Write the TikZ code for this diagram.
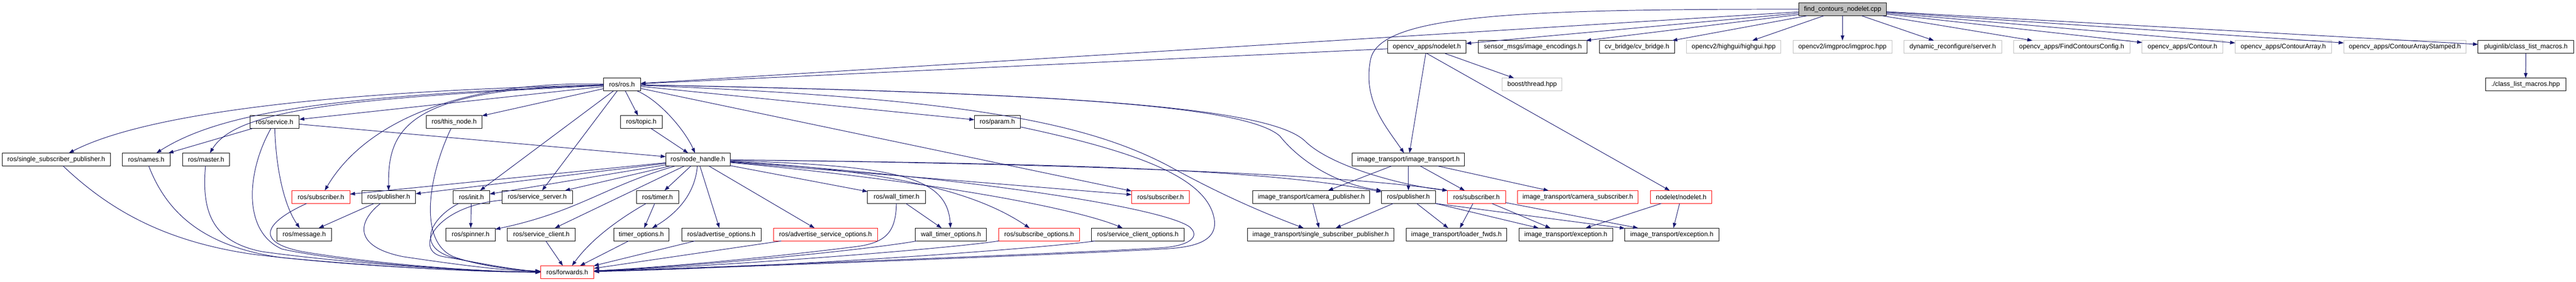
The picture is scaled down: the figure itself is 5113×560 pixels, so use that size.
\documentclass[tikz,border=0pt]{standalone}
\usepackage{fontspec}
\setmainfont{Liberation Sans}
\usetikzlibrary{arrows.meta}
\definecolor{edgeblue}{HTML}{191970}
\definecolor{greyb}{HTML}{BFBFBF}
\newcommand\dfont{\fontsize{9.8}{11}\selectfont}
\newcommand\bx[6]{\node[#1, minimum width={(#4-#3)*0.75pt}] (#2) at ({(#3+#4)/2},#5) {#6};}
\tikzset{
  nb/.style={draw=black, fill=white, line width=0.75pt, inner sep=0pt, outer sep=0pt, minimum height=19.3pt, font=\dfont},
  nr/.style={nb, draw=red},
  ng/.style={nb, draw=greyb},
  nf/.style={nb, fill=greyb},
  ed/.style={draw=edgeblue, line width=0.75pt, -{Triangle[length=7.5pt,width=5.25pt]}},
}
\begin{document}
\begin{tikzpicture}[x=0.75pt, y=-0.75pt]
\useasboundingbox (0,0) rectangle (5113,560);
% row 0
\bx{nf}{find}{3570}{3744.6}{18.4}{find\_contours\_nodelet.cpp}
% row 1
\bx{nb}{oan}{2754}{2910}{93.4}{opencv\_apps/nodelet.h}
\bx{nb}{senc}{2934.8}{3150}{93.4}{sensor\_msgs/image\_encodings.h}
\bx{nb}{cvb}{3174.6}{3323.7}{93.4}{cv\_bridge/cv\_bridge.h}
\bx{ng}{hgui}{3347.8}{3534.4}{93.4}{opencv2/highgui/highgui.hpp}
\bx{ng}{imgp}{3559}{3755}{93.4}{opencv2/imgproc/imgproc.hpp}
\bx{ng}{dynr}{3779}{3972.8}{93.4}{dynamic\_reconfigure/server.h}
\bx{ng}{fcc}{3996.4}{4227.4}{93.4}{opencv\_apps/FindContoursConfig.h}
\bx{ng}{cont}{4251.8}{4412}{93.4}{opencv\_apps/Contour.h}
\bx{ng}{carr}{4436.4}{4627.4}{93.4}{opencv\_apps/ContourArray.h}
\bx{ng}{cas}{4651.9}{4894.7}{93.4}{opencv\_apps/ContourArrayStamped.h}
\bx{nb}{plm}{4918.6}{5108.4}{93.4}{pluginlib/class\_list\_macros.h}
% row 1.5
\bx{nb}{rosh}{1197.8}{1271.4}{168}{ros/ros.h}
\bx{ng}{boost}{2981.7}{3100.4}{168}{boost/thread.hpp}
\bx{nb}{clm}{4933}{5093}{168}{./class\_list\_macros.hpp}
% row 2
\bx{nb}{srv}{496}{594}{242.5}{ros/service.h}
\bx{nb}{thn}{846}{956.7}{242.5}{ros/this\_node.h}
\bx{nb}{topic}{1231.5}{1314.5}{242.5}{ros/topic.h}
\bx{nb}{param}{1934}{2025}{242.5}{ros/param.h}
% row 3
\bx{nb}{rssp}{4.5}{219}{317}{ros/single\_subscriber\_publisher.h}
\bx{nb}{names}{243}{337.5}{317}{ros/names.h}
\bx{nb}{master}{362}{456}{317}{ros/master.h}
\bx{nb}{nh}{1321.4}{1449}{317}{ros/node\_handle.h}
\bx{nb}{itit}{2684}{2907}{317}{image\_transport/image\_transport.h}
% row 4
\bx{nr}{sub1}{579.5}{694.6}{391.5}{ros/subscriber.h}
\bx{nb}{pub1}{717.9}{825}{391.5}{ros/publisher.h}
\bx{nb}{init}{899.5}{971.9}{391.5}{ros/init.h}
\bx{nb}{ssrv}{996}{1136.6}{391.5}{ros/service\_server.h}
\bx{nb}{timer}{1263}{1347}{391.5}{ros/timer.h}
\bx{nb}{wtim}{1722}{1837}{391.5}{ros/wall\_timer.h}
\bx{nr}{sub2}{2246}{2361}{391.5}{ros/subscriber.h}
\bx{nb}{itcp}{2486.6}{2718.8}{391.5}{image\_transport/camera\_publisher.h}
\bx{nb}{pub2}{2742}{2849}{391.5}{ros/publisher.h}
\bx{nr}{sub3}{2873}{2988}{391.5}{ros/subscriber.h}
\bx{nr}{itcs}{3011.6}{3251.8}{391.5}{image\_transport/camera\_subscriber.h}
\bx{nr}{ndl}{3276}{3397.8}{391.5}{nodelet/nodelet.h}
% row 5
\bx{nb}{msg}{550}{657.6}{466}{ros/message.h}
\bx{nb}{spin}{885}{983}{466}{ros/spinner.h}
\bx{nb}{scl}{1007}{1142}{466}{ros/service\_client.h}
\bx{nb}{topt}{1218}{1328}{466}{timer\_options.h}
\bx{nb}{aopt}{1353}{1510.7}{466}{ros/advertise\_options.h}
\bx{nr}{asopt}{1535}{1742}{466}{ros/advertise\_service\_options.h}
\bx{nb}{wtopt}{1817}{1958}{466}{wall\_timer\_options.h}
\bx{nr}{subopt}{1982.6}{2142.4}{466}{ros/subscribe\_options.h}
\bx{nb}{scopt}{2166.5}{2350.4}{466}{ros/service\_client\_options.h}
\bx{nb}{itssp}{2476}{2766.5}{466}{image\_transport/single\_subscriber\_publisher.h}
\bx{nb}{itlf}{2791}{2990.6}{466}{image\_transport/loader\_fwds.h}
\bx{nb}{itex1}{3014.7}{3200.9}{466}{image\_transport/exception.h}
\bx{nb}{itex2}{3225}{3411.6}{466}{image\_transport/exception.h}
% row 6
\bx{nr}{fwd}{1073}{1179}{541}{ros/forwards.h}

% ---- edges from find_contours_nodelet.cpp
\draw[ed] (find) -- (rosh);
\draw[ed] (find) .. controls (3000,18) and (2735,30) .. (2720,120) .. controls (2705,200) and (2750,250) .. (itit);
\draw[ed] (find) -- (oan);
\draw[ed] (find) -- (senc);
\draw[ed] (find) -- (cvb);
\draw[ed] (find) -- (hgui);
\draw[ed] (find) -- (imgp);
\draw[ed] (find) -- (dynr);
\draw[ed] (find) -- (fcc);
\draw[ed] (find) -- (cont);
\draw[ed] (find) -- (carr);
\draw[ed] (find) -- (cas);
\draw[ed] (find) -- (plm);
\draw[ed] (plm) -- (clm);
% ---- opencv_apps/nodelet.h
\draw[ed] (oan) -- (rosh);
\draw[ed] (oan) -- (itit);
\draw[ed] (oan) -- (boost);
\draw[ed] (oan.south) -- (ndl);
% ---- ros/ros.h
\draw[ed] (rosh) .. controls (700,180) and (300,220) .. (rssp);
\draw[ed] (rosh) .. controls (700,190) and (450,215) .. (names);
\draw[ed] (rosh) .. controls (700,195) and (470,215) .. (master);
\draw[ed] (rosh) -- (srv);
\draw[ed] (rosh) -- (thn);
\draw[ed] (rosh) -- (topic);
\draw[ed] (rosh) .. controls (1310,200) and (1360,260) .. (nh);
\draw[ed] (rosh) -- (init);
\draw[ed] (rosh) -- (ssrv);
\draw[ed] (rosh) .. controls (800,175) and (770,260) .. (pub1);
\draw[ed] (rosh) .. controls (900,160) and (720,250) .. (sub1);
\draw[ed] (rosh) -- (param);
\draw[ed] (rosh) -- (sub2);
\draw[ed] (rosh) .. controls (1900,195) and (2150,240) .. (2320,330) .. controls (2420,385) and (2500,420) .. (itssp);
\draw[ed] (rosh) .. controls (2100,185) and (2470,210) .. (2540,270) .. controls (2580,320) and (2650,365) .. (pub2.north west);
\draw[ed] (rosh) .. controls (2150,185) and (2520,215) .. (2590,280) .. controls (2640,330) and (2780,368) .. (sub3.north west);
% ---- ros/param.h
\draw[ed] (param) .. controls (2250,300) and (2390,350) .. (2409,430) .. controls (2420,475) and (2380,490) .. (2320,494) .. controls (2200,502) and (1500,530) .. (fwd);
% ---- ros/service.h
\draw[ed] (srv) -- (names);
\draw[ed] (srv) .. controls (548,340) and (565,410) .. (msg);
\draw[ed] (srv) .. controls (490,340) and (480,460) .. (560,495) .. controls (700,525) and (950,540) .. (fwd);
\draw[ed] (srv) -- (nh);
% ---- ros/topic.h, ros/this_node.h
\draw[ed] (topic) -- (nh);
\draw[ed] (thn) .. controls (850,350) and (830,480) .. (900,510) .. controls (950,528) and (1020,537) .. (fwd);
% ---- row 3 left
\draw[ed] (rssp) .. controls (220,420) and (330,480) .. (500,505) .. controls (700,530) and (950,540) .. (fwd);
\draw[ed] (names) .. controls (330,420) and (400,490) .. (560,512) .. controls (750,530) and (950,541) .. (fwd);
\draw[ed] (master) .. controls (400,420) and (420,480) .. (520,500) .. controls (700,525) and (950,540) .. (fwd);
% ---- ros/node_handle.h
\draw[ed] (nh) -- (pub1);
\draw[ed] (nh) -- (sub1);
\draw[ed] (nh) -- (init);
\draw[ed] (nh) -- (ssrv);
\draw[ed] (nh) .. controls (1200,370) and (1150,420) .. (spin);
\draw[ed] (nh) -- (scl);
\draw[ed] (nh) -- (timer);
\draw[ed] (nh) .. controls (1380,380) and (1350,420) .. (topt);
\draw[ed] (nh) -- (aopt);
\draw[ed] (nh) -- (asopt);
\draw[ed] (nh) -- (wtim);
\draw[ed] (nh) .. controls (1780,330) and (1880,350) .. (wtopt);
\draw[ed] (nh) .. controls (1800,340) and (1950,390) .. (subopt);
\draw[ed] (nh) .. controls (1900,365) and (2150,420) .. (scopt);
\draw[ed] (nh) -- (sub2);
\draw[ed] (nh) .. controls (2100,325) and (2500,335) .. (pub2);
\draw[ed] (nh) .. controls (2100,325) and (2650,345) .. (sub3.north west);
\draw[ed] (nh) .. controls (1900,350) and (2300,410) .. (2360,450) .. controls (2385,470) and (2360,488) .. (2310,492) .. controls (2200,500) and (1500,528) .. (fwd);
% ---- row 4 left
\draw[ed] (sub1) .. controls (530,440) and (500,480) .. (600,500) .. controls (750,525) and (950,540) .. (fwd);
\draw[ed] (pub1) -- (msg);
\draw[ed] (pub1) .. controls (710,440) and (700,490) .. (800,510) .. controls (900,525) and (1000,538) .. (fwd);
\draw[ed] (init) -- (spin);
\draw[ed] (init) .. controls (860,430) and (820,490) .. (900,512) .. controls (960,528) and (1020,537) .. (fwd);
\draw[ed] (ssrv) .. controls (860,410) and (820,500) .. (880,510) .. controls (940,520) and (1020,537) .. (fwd);
\draw[ed] (timer) -- (topt);
\draw[ed] (timer) .. controls (1220,440) and (1170,480) .. (fwd);
\draw[ed] (wtim) -- (wtopt);
\draw[ed] (wtim) .. controls (1778,460) and (1760,482) .. (1700,490) .. controls (1500,515) and (1300,532) .. (fwd);
% ---- row 5 to forwards
\draw[ed] (scl) -- (fwd);
\draw[ed] (topt) -- (fwd);
\draw[ed] (aopt) -- (fwd);
\draw[ed] (asopt) -- (fwd);
\draw[ed] (wtopt) .. controls (1750,492) and (1450,525) .. (fwd);
\draw[ed] (subopt) .. controls (1900,492) and (1500,525) .. (fwd);
\draw[ed] (scopt) .. controls (2100,490) and (1600,530) .. (fwd);
% ---- image_transport
\draw[ed] (itit) -- (itcp);
\draw[ed] (itit) -- (pub2);
\draw[ed] (itit) -- (sub3);
\draw[ed] (itit) -- (itcs);
\draw[ed] (itcp) -- (itssp);
\draw[ed] (pub2) -- (itssp);
\draw[ed] (pub2) -- (itlf);
\draw[ed] (pub2) -- (itex1);
\draw[ed] (pub2.south east) -- (itex2);
\draw[ed] (sub3) -- (itlf);
\draw[ed] (sub3) -- (itex1);
\draw[ed] (sub3) -- (itex2);
\draw[ed] (ndl) -- (itex1);
\draw[ed] (ndl) -- (itex2);
\end{tikzpicture}
\end{document}
